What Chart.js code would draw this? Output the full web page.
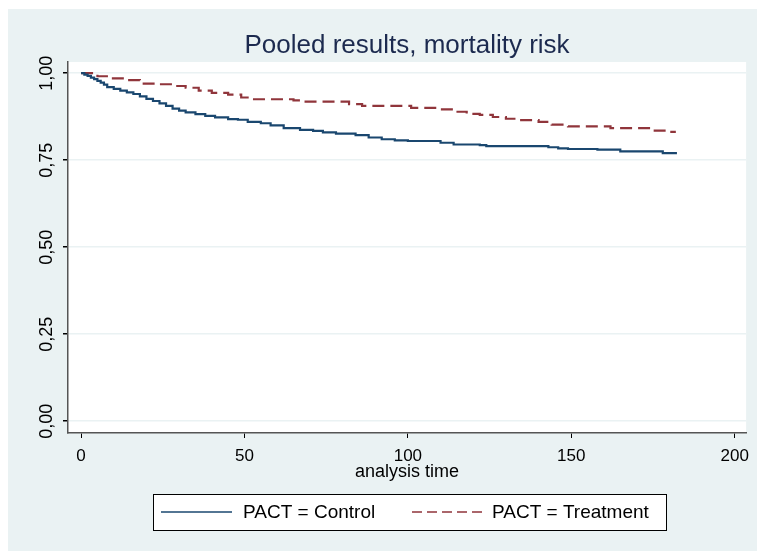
<!DOCTYPE html>
<html>
<head>
<meta charset="utf-8">
<script src="https://cdn.jsdelivr.net/npm/chart.js@4.4.1/dist/chart.umd.min.js"></script>
<style>
  html, body { margin: 0; padding: 0; background: #fff; }
  canvas { display: block; }
</style>
</head>
<body>
<canvas id="kmChart" width="757" height="551"></canvas>
<script>
// Kaplan-Meier estimates (time, survival)
const controlTime = [0, 1, 2, 3, 4, 5, 6, 7, 8, 10, 12, 14, 16, 18, 20, 22, 24, 26, 28, 30, 32, 35, 38, 41, 45, 48, 51, 55, 58, 62, 67, 71, 74, 78, 84, 88, 92, 96, 100, 110, 114, 122, 124, 143, 146, 149, 158, 165, 178, 182];
const controlSurv = [1.000, 0.996, 0.992, 0.987, 0.983, 0.978, 0.973, 0.967, 0.960, 0.955, 0.950, 0.945, 0.940, 0.933, 0.926, 0.920, 0.913, 0.906, 0.898, 0.892, 0.887, 0.882, 0.877, 0.873, 0.868, 0.866, 0.860, 0.856, 0.850, 0.842, 0.837, 0.834, 0.830, 0.826, 0.822, 0.815, 0.810, 0.807, 0.805, 0.800, 0.795, 0.793, 0.790, 0.787, 0.784, 0.782, 0.780, 0.775, 0.770, 0.767];

const treatTime = [0, 5, 9, 14, 18, 24, 28, 32, 36, 40, 45, 49, 52, 65, 68, 82, 86, 101, 110, 114, 118, 122, 126, 130, 133, 140, 144, 149, 162, 175, 180, 182];
const treatSurv = [1.000, 0.991, 0.985, 0.980, 0.970, 0.968, 0.963, 0.958, 0.950, 0.943, 0.938, 0.930, 0.925, 0.922, 0.918, 0.911, 0.906, 0.900, 0.896, 0.889, 0.883, 0.880, 0.874, 0.869, 0.865, 0.860, 0.852, 0.847, 0.842, 0.835, 0.831, 0.831];

const seriesNames = ['PACT = Control', 'PACT = Treatment'];
const xTicks = [0, 50, 100, 150, 200];
const yTicks = [0, 0.25, 0.5, 0.75, 1];
const yTickLabels = ['0,00', '0,25', '0,50', '0,75', '1,00'];

const chartTitle = 'Pooled results, mortality risk';
const xTitle = 'analysis time';

const navy = '#1A476F';
const maroon = '#90353B';
const bg = '#EAF2F3';
const fontFamily = '"Liberation Sans", Arial, sans-serif';

// фон, заголовок и легенда в стиле Stata
const stataLook = {
    id: 'stataLook',
    beforeDraw(chart) {
        const c = chart.ctx;
        const a = chart.chartArea;
        c.save();
        c.fillStyle = '#ffffff';
        c.fillRect(0, 0, chart.width, chart.height);
        c.fillStyle = bg;
        c.fillRect(8, 9, chart.width - 8, chart.height - 9);
        c.fillStyle = '#ffffff';
        c.fillRect(a.left, a.top, a.right - a.left, a.bottom - a.top);
        c.restore();
    },
    afterDraw(chart) {
        const c = chart.ctx;
        const a = chart.chartArea;
        c.save();
        // title
        c.fillStyle = '#1C2A4F';
        c.font = '26px ' + fontFamily;
        c.textAlign = 'center';
        c.textBaseline = 'alphabetic';
        c.fillText(chartTitle, (a.left + a.right) / 2, 53);

        // legend box
        const bx = 153, by = 494, bw = 513, bh = 36;
        c.fillStyle = '#ffffff';
        c.fillRect(bx, by, bw, bh);
        c.strokeStyle = '#000000';
        c.lineWidth = 1;
        c.strokeRect(bx + 0.5, by + 0.5, bw, bh);

        const ly = by + bh / 2;
        c.lineWidth = 1.5;
        c.strokeStyle = navy;
        c.setLineDash([]);
        c.beginPath();
        c.moveTo(161, ly);
        c.lineTo(232, ly);
        c.stroke();

        c.strokeStyle = maroon;
        c.setLineDash([10, 5]);
        c.beginPath();
        c.moveTo(412, ly);
        c.lineTo(482, ly);
        c.stroke();
        c.setLineDash([]);

        c.fillStyle = '#000000';
        c.font = '19px ' + fontFamily;
        c.textAlign = 'left';
        c.textBaseline = 'middle';
        c.fillText(seriesNames[0], 243, ly + 1);
        c.fillText(seriesNames[1], 492, ly + 1);
        c.restore();
    }
};

const ctx = document.getElementById('kmChart').getContext('2d');

const kmChart = new Chart(ctx, {
    type: 'line',
    data: {
        datasets: [
            {
                label: seriesNames[0],
                data: controlTime.map((t, i) => ({ x: t, y: controlSurv[i] })),
                borderColor: navy,
                borderWidth: 2.2,
                stepped: 'before',
                pointRadius: 0,
                fill: false
            },
            {
                label: seriesNames[1],
                data: treatTime.map((t, i) => ({ x: t, y: treatSurv[i] })),
                borderColor: maroon,
                borderWidth: 2.2,
                borderDash: [12, 6],
                stepped: 'before',
                pointRadius: 0,
                fill: false
            }
        ]
    },
    options: {
        responsive: false,
        animation: false,
        devicePixelRatio: 1,
        layout: {
            padding: { left: 0, right: 9, top: 62, bottom: 68 }
        },
        plugins: {
            legend: { display: false },
            title: { display: false },
            tooltip: { enabled: false }
        },
        scales: {
            x: {
                type: 'linear',
                min: -4,
                max: 203.5,
                afterBuildTicks: s => { s.ticks = xTicks.map(v => ({ value: v })); },
                afterFit: s => { s.height = 50; },
                grid: {
                    drawOnChartArea: false,
                    drawTicks: true,
                    tickLength: 5,
                    tickColor: '#000000'
                },
                border: { display: true, color: '#555555', width: 1.5 },
                ticks: {
                    color: '#000000',
                    font: { family: fontFamily, size: 17 },
                    padding: 8,
                    maxRotation: 0,
                    minRotation: 0
                },
                title: {
                    display: true,
                    text: xTitle,
                    color: '#000000',
                    font: { family: fontFamily, size: 18 },
                    padding: { top: 0, bottom: 0 }
                }
            },
            y: {
                type: 'linear',
                min: -0.034,
                max: 1.032,
                afterBuildTicks: s => { s.ticks = yTicks.map(v => ({ value: v })); },
                afterFit: s => { s.width = 68; },
                grid: {
                    color: bg,
                    lineWidth: 1.5,
                    drawTicks: true,
                    tickLength: 5,
                    tickColor: '#000000'
                },
                border: { display: true, color: '#555555', width: 1.5 },
                ticks: {
                    color: '#000000',
                    font: { family: fontFamily, size: 18 },
                    padding: -2,
                    minRotation: 90,
                    maxRotation: 90,
                    crossAlign: 'center',
                    callback: (v) => yTickLabels[yTicks.indexOf(v)]
                }
            }
        }
    },
    plugins: [stataLook]
});
</script>
</body>
</html>
